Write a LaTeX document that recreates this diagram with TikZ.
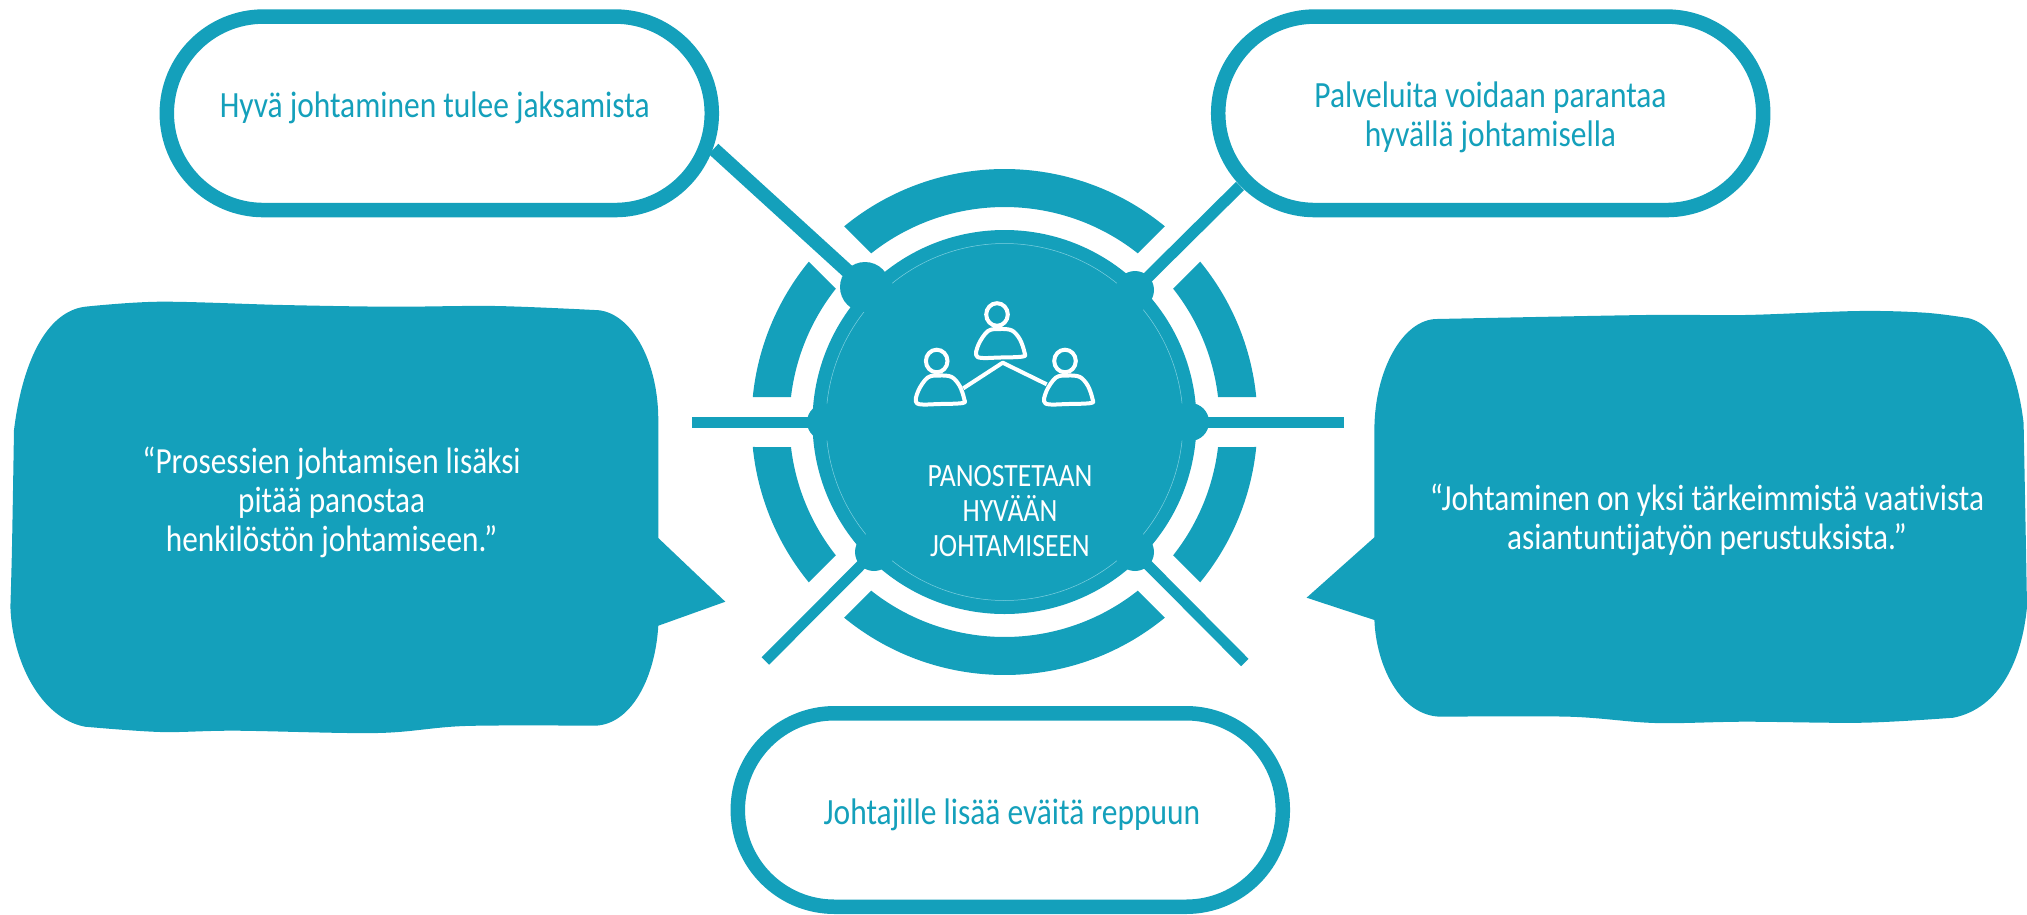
\documentclass[tikz,border=0pt]{standalone}
\usepackage{fontspec}
\newfontfamily\dfont[FakeStretch=0.85,Ligatures=CommonOff]{Carlito}
\definecolor{brand}{HTML}{14A0BB}
\definecolor{hairline}{HTML}{7FD0E0}
\newcommand\ringseg[4]{\fill[brand] (#1:253) arc[start angle=#1,end angle=#2,radius=253pt] -- (#4:215) arc[start angle=#4,end angle=#3,radius=215pt] -- cycle;}
\newcommand\hair[2]{\draw[hairline,line width=0.5pt] (#1:178.5) arc[start angle=#1,end angle=#2,radius=178.5pt];}
\tikzset{
  pill/.style={draw=brand,fill=white,line width=14.5pt,rectangle,rounded corners=96.7pt,minimum width=545pt,minimum height=193.5pt,inner sep=0pt},
  hubdot/.style={circle,fill=brand,inner sep=0pt},
  link/.style={draw=brand,line cap=butt},
  tealtxt/.style={text=brand,align=center,font=\dfont\fontsize{37}{39}\selectfont,inner sep=0pt},
  whitetxt/.style={text=white,align=center,font=\dfont\fontsize{36.8}{39}\selectfont,inner sep=0pt},
  hubtxt/.style={text=white,align=center,font=\dfont\fontsize{32.5}{35}\selectfont,inner sep=0pt},
  pics/person/.style={code={
    \draw[white,line width=4pt] (0,0) ellipse[x radius=10.8pt,y radius=11.3pt];
    \draw[white,line width=4pt,line join=round] plot[smooth cycle,tension=.55] coordinates {(-19.5,42.5) (-18.5,30) (-9,16.5) (3,14.5) (15,16) (23,25) (27.5,38) (26,42) (3,43)};
  }}
}
\begin{document}
\begin{tikzpicture}[x=1pt,y=-1pt]
\useasboundingbox (0,0) rectangle (2027,914);
% hub
\node[circle,fill=brand,inner sep=0pt,minimum size=384pt] (hub) at (1004.5,422) {};
\begin{scope}[shift={(1004.5,422)},y=1pt]
  \ringseg{50.67}{129.33}{51.68}{128.32}
  \ringseg{140.67}{174.33}{141.68}{173.32}
  \ringseg{185.67}{219.33}{186.68}{218.32}
  \ringseg{230.67}{309.33}{231.68}{308.32}
  \ringseg{320.67}{354.33}{321.68}{353.32}
  \ringseg{5.67}{39.33}{6.68}{38.32}
  \hair{51}{129}\hair{141}{174}\hair{186}{219}\hair{231}{309}\hair{321}{354}\hair{6}{39}
\end{scope}
% dots
\node[hubdot,minimum size=50pt] (dotTL) at (865,287) {};
\node[hubdot,minimum size=38pt] (dotTR) at (1135,290) {};
\node[hubdot,minimum size=36pt] (dotL) at (825,422) {};
\node[hubdot,minimum size=38pt] (dotR) at (1190,422) {};
\node[hubdot,minimum size=38pt] (dotBL) at (874,552) {};
\node[hubdot,minimum size=38pt] (dotBR) at (1135,552) {};
% connectors
\coordinate (endTL) at (713.6,149);
\coordinate (endTR) at (1240,186);
\coordinate (endL) at (692,422);
\coordinate (endR) at (1344,422);
\coordinate (endBL) at (765.4,661);
\coordinate (endBR) at (1244.8,662.5);
\draw[link,line width=14pt] (dotTL.center) -- (endTL);
\draw[link,line width=11.5pt] (dotTR.center) -- (endTR);
\draw[link,line width=11pt] (dotL.center) -- (endL);
\draw[link,line width=11pt] (dotR.center) -- (endR);
\draw[link,line width=10.5pt] (dotBL.center) -- (endBL);
\draw[link,line width=10.5pt] (dotBR.center) -- (endBR);
% pills
\node[pill] (pillTL) at (439.3,113.3) {};
\node[pill] (pillTR) at (1490.7,113.3) {};
\node[pill] (pillB) at (1010.3,810) {};
\node[tealtxt,anchor=base] (txtTL) at (434.7,117.7) {Hyvä johtaminen tulee jaksamista};
\node[tealtxt] (txtTR) at (1490.5,117) {Palveluita voidaan parantaa\\hyvällä johtamisella};
\node[tealtxt,anchor=base] (txtB) at (1012,824) {Johtajille lisää eväitä reppuun};
% bubbles
\fill[brand] (658.3,538) -- (658.3,420) .. controls (658.3,359.5) and (629.8,310) .. (594.6,310)
  -- plot[smooth,tension=.55] coordinates {(594.6,310) (495.5,306) (392,306.7) (283,305) (160,301.7) (85,306.7)}
  .. controls (45,312) and (22,365) .. (14,430)
  -- plot[smooth,tension=.55] coordinates {(14,430) (12,546.7) (10.4,606.7)}
  .. controls (12,660) and (40,718) .. (85,726.7)
  -- plot[smooth,tension=.55] coordinates {(85,726.7) (160.5,732) (236,730.7) (377.5,733) (465,726) (593.7,725.7)}
  .. controls (630,725.7) and (655,680) .. (658.3,625.7) -- (725.3,601.7) -- cycle;
\fill[brand] (1374.4,537.3) -- (1374.4,430) .. controls (1374.4,370) and (1403,319) .. (1437,319)
  -- plot[smooth,tension=.55] coordinates {(1437,319) (1645.5,315) (1745,315) (1858.7,311) (1925,312.7) (1967.7,318)}
  .. controls (2000,325) and (2018,375) .. (2023.6,423)
  -- plot[smooth,tension=.55] coordinates {(2023.6,423) (2025.5,523) (2027,606.7)}
  .. controls (2022,660) and (2000,708) .. (1953.5,717.7)
  -- plot[smooth,tension=.55] coordinates {(1953.5,717.7) (1863.5,722.7) (1745,721.7) (1655,723) (1569.6,716.7) (1441.7,716.7)}
  .. controls (1400,716.7) and (1376,665) .. (1374.4,620) -- (1306.6,597.7) -- cycle;
\node[whitetxt] (txtL) at (331.6,502) {“Prosessien johtamisen lisäksi\\pitää panostaa\\henkilöstön johtamiseen.”};
\node[whitetxt] (txtR) at (1707,520) {“Johtaminen on yksi tärkeimmistä vaativista\\asiantuntijatyön perustuksista.”};
% centre
\path (997,314.5) pic {person};
\path (936.7,361) pic {person};
\path (1065,361) pic {person};
\coordinate (lkA) at (963.3,388.3);
\coordinate (lkB) at (1002.7,362.7);
\coordinate (lkC) at (1046.7,384.3);
\draw[white,line width=4pt,line join=round] (lkA) -- (lkB) -- (lkC);
\node[hubtxt] (txtC) at (1010,511) {PANOSTETAAN\\HYVÄÄN\\JOHTAMISEEN};
\end{tikzpicture}
\end{document}
